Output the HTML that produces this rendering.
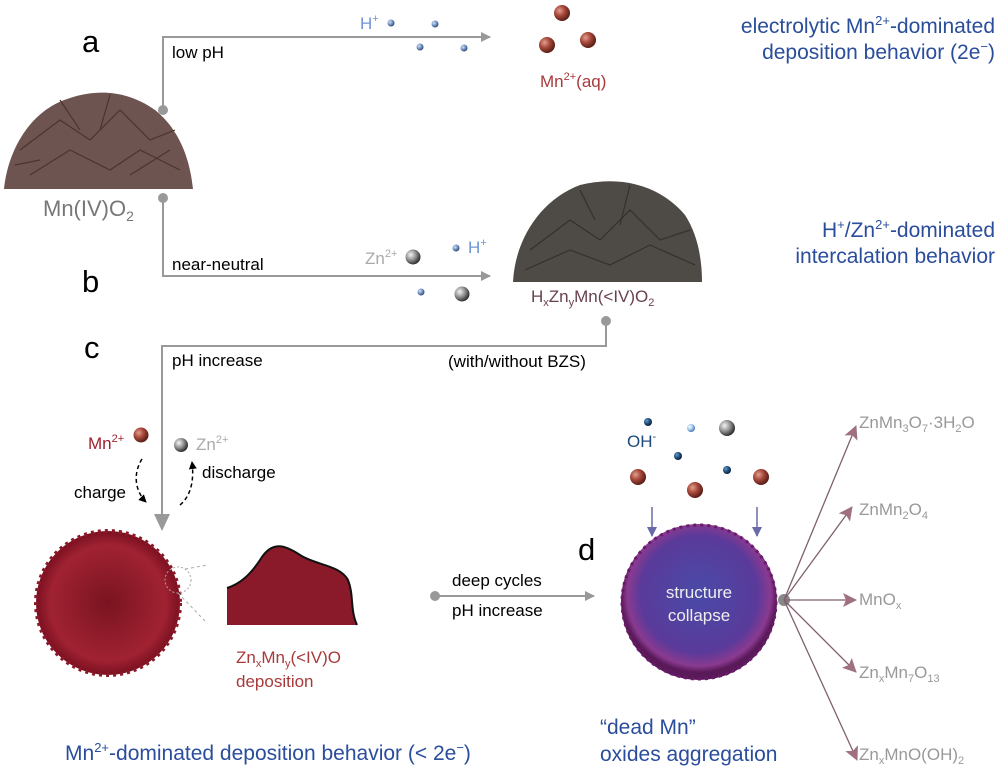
<!DOCTYPE html>
<html><head><meta charset="utf-8"><style>
html,body{margin:0;padding:0;background:#fff;width:1000px;height:769px;overflow:hidden}
text{font-family:"Liberation Sans",sans-serif}
</style></head><body>
<svg width="1000" height="769" viewBox="0 0 1000 769" xmlns="http://www.w3.org/2000/svg">
<defs>
<radialGradient id="rb" cx="35%" cy="35%" r="65%"><stop offset="0" stop-color="#e0a090"/><stop offset=".5" stop-color="#a8483a"/><stop offset="1" stop-color="#5a2018"/></radialGradient>
<radialGradient id="gb" cx="35%" cy="35%" r="65%"><stop offset="0" stop-color="#f5f5f5"/><stop offset=".5" stop-color="#999"/><stop offset="1" stop-color="#333"/></radialGradient>
<radialGradient id="bb" cx="35%" cy="35%" r="65%"><stop offset="0" stop-color="#cfe0f5"/><stop offset=".6" stop-color="#6f8fc0"/><stop offset="1" stop-color="#34507a"/></radialGradient>
<radialGradient id="db" cx="35%" cy="35%" r="65%"><stop offset="0" stop-color="#6a9ac8"/><stop offset=".6" stop-color="#1d4a78"/><stop offset="1" stop-color="#0a2440"/></radialGradient>
<radialGradient id="lb" cx="35%" cy="35%" r="65%"><stop offset="0" stop-color="#fff"/><stop offset=".6" stop-color="#9cc4e8"/><stop offset="1" stop-color="#4a7ab0"/></radialGradient>
<radialGradient id="red" cx="50%" cy="50%" r="50%"><stop offset="0" stop-color="#7a1420"/><stop offset=".8" stop-color="#a02232"/><stop offset="1" stop-color="#7a1020"/></radialGradient>
<radialGradient id="pur" cx="50%" cy="45%" r="50%"><stop offset="0" stop-color="#4a4aa8"/><stop offset=".75" stop-color="#5a3a9a"/><stop offset=".92" stop-color="#8a3a90"/><stop offset="1" stop-color="#5a1a5a"/></radialGradient>
<marker id="ga" markerWidth="10" markerHeight="10" refX="9" refY="5" orient="auto" markerUnits="userSpaceOnUse" viewBox="0 0 10 10"><path d="M0,0 L10,5 L0,10z" fill="#999"/></marker>
<marker id="pa" markerWidth="14" markerHeight="14" refX="13" refY="7" orient="auto" markerUnits="userSpaceOnUse" viewBox="0 0 14 14"><path d="M0,0 L14,7 L0,14 L3,7z" fill="#a07080"/></marker>
<marker id="va" markerWidth="10" markerHeight="10" refX="9" refY="5" orient="auto" markerUnits="userSpaceOnUse" viewBox="0 0 10 10"><path d="M0,0 L10,5 L0,10z" fill="#6a6aa8"/></marker>
<marker id="ka" markerWidth="8" markerHeight="8" refX="7" refY="4" orient="auto" markerUnits="userSpaceOnUse" viewBox="0 0 8 8"><path d="M0,0 L8,4 L0,8z" fill="#000"/></marker>
</defs>

<text x="82" y="52" font-size="31">a</text>
<text x="82" y="292" font-size="31">b</text>
<text x="84" y="358" font-size="31">c</text>
<text x="578" y="560" font-size="31">d</text>

<path d="M4,189 C8,150 30,110 70,98 C100,88 130,92 155,110 C180,130 190,160 193,189 Z" fill="#6e5450"/>
<path d="M20,150 L60,120 L90,140 L120,110 L150,140 L175,130 M30,175 L70,150 L110,170 L140,150 L180,170 M60,100 L80,130 M110,95 L100,130 M15,165 L40,160 M130,175 L170,150" stroke="#4a3430" stroke-width="1.2" fill="none"/>
<text x="43" y="216" font-size="22" fill="#777">Mn(IV)O<tspan font-size="14" dy="5">2</tspan></text>

<circle cx="163" cy="110" r="5" fill="#999"/>
<path d="M163,110 V37 H490" stroke="#999" stroke-width="2" fill="none" marker-end="url(#ga)"/>
<text x="172" y="58" font-size="17">low pH</text>
<text x="360" y="29" font-size="17" fill="#6f95d0">H<tspan font-size="11" dy="-7">+</tspan></text>
<circle cx="391" cy="23" r="3.5" fill="url(#bb)"/><circle cx="435" cy="24" r="3.5" fill="url(#bb)"/>
<circle cx="420" cy="47" r="3.5" fill="url(#bb)"/><circle cx="464" cy="48" r="3.5" fill="url(#bb)"/>
<circle cx="562" cy="13" r="8" fill="url(#rb)"/><circle cx="547" cy="45" r="8" fill="url(#rb)"/><circle cx="588" cy="40" r="8" fill="url(#rb)"/>
<text x="540" y="87" font-size="17" fill="#a83a3a">Mn<tspan font-size="11" dy="-7">2+</tspan><tspan dy="7">(aq)</tspan></text>
<text x="995" y="33" font-size="21" fill="#2a4d9c" text-anchor="end">electrolytic Mn<tspan font-size="13" dy="-8">2+</tspan><tspan dy="8">-dominated</tspan></text>
<text x="995" y="59" font-size="21" fill="#2a4d9c" text-anchor="end">deposition behavior (2e<tspan font-size="13" dy="-8">−</tspan><tspan dy="8">)</tspan></text>

<circle cx="163" cy="198" r="5" fill="#999"/>
<path d="M163,198 V276 H490" stroke="#999" stroke-width="2" fill="none" marker-end="url(#ga)"/>
<text x="172" y="270" font-size="17">near-neutral</text>
<text x="365" y="264" font-size="17" fill="#aaa">Zn<tspan font-size="11" dy="-7">2+</tspan></text>
<circle cx="413" cy="257" r="7.5" fill="url(#gb)"/>
<circle cx="456" cy="248" r="3.5" fill="url(#bb)"/>
<text x="468" y="253" font-size="17" fill="#6f95d0">H<tspan font-size="11" dy="-7">+</tspan></text>
<circle cx="421" cy="292" r="3.5" fill="url(#bb)"/><circle cx="462" cy="294" r="7.5" fill="url(#gb)"/>

<path d="M513,282 C515,240 540,200 580,185 C620,175 660,185 685,215 C698,235 702,260 702,282 Z" fill="#4e4a45"/>
<path d="M530,250 L570,220 L600,240 L630,210 L660,240 L690,230 M525,270 L570,250 L610,265 L650,245 L695,265 M580,190 L595,220 M630,185 L620,225" stroke="#343030" stroke-width="1.2" fill="none"/>
<text x="531" y="302" font-size="17" fill="#6a4050">H<tspan font-size="11" dy="4">x</tspan><tspan dy="-4">Zn</tspan><tspan font-size="11" dy="4">y</tspan><tspan dy="-4">Mn(&lt;IV)O</tspan><tspan font-size="11" dy="4">2</tspan></text>
<text x="995" y="237" font-size="21" fill="#2a4d9c" text-anchor="end">H<tspan font-size="13" dy="-8">+</tspan><tspan dy="8">/Zn</tspan><tspan font-size="13" dy="-8">2+</tspan><tspan dy="8">-dominated</tspan></text>
<text x="995" y="263" font-size="21" fill="#2a4d9c" text-anchor="end">intercalation behavior</text>

<circle cx="606" cy="321" r="5" fill="#999"/>
<path d="M606,321 V346 H162 V528" stroke="#999" stroke-width="2" fill="none"/>
<path d="M154,514 L170,514 L162,531 z" fill="#999"/>
<text x="172" y="366" font-size="17">pH increase</text>
<text x="448" y="367" font-size="17">(with/without BZS)</text>
<text x="88" y="449" font-size="17" fill="#a02030">Mn<tspan font-size="11" dy="-7">2+</tspan></text>
<circle cx="141" cy="435" r="7.5" fill="url(#rb)"/>
<circle cx="181" cy="445" r="7" fill="url(#gb)"/>
<text x="196" y="450" font-size="17" fill="#aaa">Zn<tspan font-size="11" dy="-7">2+</tspan></text>
<path d="M142,459 C132,475 136,492 146,502" stroke="#000" stroke-width="1.5" stroke-dasharray="4,3" fill="none" marker-end="url(#ka)"/>
<path d="M180,505 C192,495 194,478 192,462" stroke="#000" stroke-width="1.5" stroke-dasharray="4,3" fill="none" marker-end="url(#ka)"/>
<text x="74" y="498" font-size="17">charge</text>
<text x="202" y="478" font-size="17">discharge</text>

<circle cx="108" cy="603" r="72" fill="url(#red)"/>
<circle cx="108" cy="603" r="72" fill="none" stroke="#8a1828" stroke-width="4" stroke-dasharray="3,4"/>
<circle cx="178" cy="580" r="13" fill="none" stroke="#aaa" stroke-dasharray="2,2"/>
<line x1="185" y1="569" x2="208" y2="565" stroke="#aaa" stroke-dasharray="3,3"/>
<line x1="178" y1="593" x2="205" y2="621" stroke="#aaa" stroke-dasharray="3,3"/>
<path d="M227,625 L227,588 C240,584 250,575 260,560 C272,540 285,545 300,555 C315,565 340,565 348,580 C354,595 350,610 357,625 Z" fill="#8a1a2a"/>
<path d="M227,588 C240,584 250,575 260,560 C272,540 285,545 300,555 C315,565 340,565 348,580 C354,595 350,610 357,625" fill="none" stroke="#111" stroke-width="2"/>
<text x="236" y="663" font-size="17" fill="#a83a3a">Zn<tspan font-size="11" dy="4">x</tspan><tspan dy="-4">Mn</tspan><tspan font-size="11" dy="4">y</tspan><tspan dy="-4">(&lt;IV)O</tspan></text>
<text x="236" y="687" font-size="17" fill="#a83a3a">deposition</text>
<text x="65" y="760" font-size="21" fill="#2a4d9c">Mn<tspan font-size="13" dy="-8">2+</tspan><tspan dy="8">-dominated deposition behavior (&lt; 2e</tspan><tspan font-size="13" dy="-8">−</tspan><tspan dy="8">)</tspan></text>

<circle cx="435" cy="596" r="5" fill="#999"/>
<path d="M435,596 H594" stroke="#999" stroke-width="2" fill="none" marker-end="url(#ga)"/>
<text x="452" y="586" font-size="17">deep cycles</text>
<text x="452" y="616" font-size="17">pH increase</text>

<text x="627" y="447" font-size="17" fill="#1d4a78">OH<tspan font-size="11" dy="-7">-</tspan></text>
<circle cx="648" cy="422" r="4" fill="url(#db)"/><circle cx="691" cy="428" r="4" fill="url(#lb)"/>
<circle cx="727" cy="428" r="8" fill="url(#gb)"/><circle cx="678" cy="456" r="4" fill="url(#db)"/>
<circle cx="727" cy="470" r="4" fill="url(#db)"/>
<circle cx="638" cy="477" r="8" fill="url(#rb)"/><circle cx="761" cy="477" r="8" fill="url(#rb)"/><circle cx="695" cy="490" r="8" fill="url(#rb)"/>
<line x1="652" y1="507" x2="652" y2="536" stroke="#6a6aa8" stroke-width="1.5" marker-end="url(#va)"/>
<line x1="757" y1="507" x2="757" y2="536" stroke="#6a6aa8" stroke-width="1.5" marker-end="url(#va)"/>
<circle cx="699" cy="602" r="78" fill="url(#pur)"/>
<circle cx="699" cy="602" r="77" fill="none" stroke="#6a1a6a" stroke-width="3" stroke-dasharray="3,4"/>
<text x="699" y="598" font-size="17" fill="#eee" text-anchor="middle">structure</text>
<text x="699" y="621" font-size="17" fill="#eee" text-anchor="middle">collapse</text>
<circle cx="784" cy="600" r="6" fill="#888"/>
<g stroke="#806070" stroke-width="1.3" fill="none">
<line x1="784" y1="600" x2="856" y2="426" marker-end="url(#pa)"/>
<line x1="784" y1="600" x2="852" y2="507" marker-end="url(#pa)"/>
<line x1="784" y1="600" x2="856" y2="600" marker-end="url(#pa)"/>
<line x1="784" y1="600" x2="856" y2="672" marker-end="url(#pa)"/>
<line x1="784" y1="600" x2="857" y2="760" marker-end="url(#pa)"/>
</g>
<g font-size="17" fill="#999">
<text x="859" y="428">ZnMn<tspan font-size="11" dy="4">3</tspan><tspan dy="-4">O</tspan><tspan font-size="11" dy="4">7</tspan><tspan dy="-4">·3H</tspan><tspan font-size="11" dy="4">2</tspan><tspan dy="-4">O</tspan></text>
<text x="859" y="515">ZnMn<tspan font-size="11" dy="4">2</tspan><tspan dy="-4">O</tspan><tspan font-size="11" dy="4">4</tspan></text>
<text x="859" y="605">MnO<tspan font-size="11" dy="4">x</tspan></text>
<text x="859" y="678">Zn<tspan font-size="11" dy="4">x</tspan><tspan dy="-4">Mn</tspan><tspan font-size="11" dy="4">7</tspan><tspan dy="-4">O</tspan><tspan font-size="11" dy="4">13</tspan></text>
<text x="859" y="760">Zn<tspan font-size="11" dy="4">x</tspan><tspan dy="-4">MnO(OH)</tspan><tspan font-size="11" dy="4">2</tspan></text>
</g>
<text x="600" y="734" font-size="21" fill="#2a4d9c">“dead Mn”</text>
<text x="600" y="761" font-size="21" fill="#2a4d9c">oxides aggregation</text>
</svg>
</body></html>
